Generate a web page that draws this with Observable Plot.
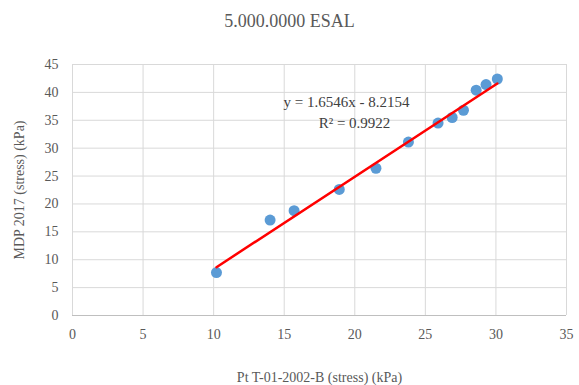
<!DOCTYPE html>
<html>
<head>
<meta charset="utf-8">
<script src="https://cdn.jsdelivr.net/npm/d3@7"></script>
<script src="https://cdn.jsdelivr.net/npm/@observablehq/plot@0.6"></script>
<style>
  body { margin: 0; background: #fff; }
  #title { height: 40px; line-height: 42px; text-align: center; font-family: "Liberation Serif", serif; font-size: 18px; color: #595959; width: 579px; }
  svg text { font-family: "Liberation Serif", serif; }
</style>
</head>
<body>
<div id="title">5.000.0000 ESAL</div>
<div id="chart"></div>
<script>
const ptValues = [10.2, 14.0, 15.7, 18.9, 21.5, 23.8, 25.9, 26.9, 27.7, 28.6, 29.3, 30.1];
const mdpValues = [7.7, 17.1, 18.8, 22.6, 26.4, 31.1, 34.5, 35.5, 36.8, 40.4, 41.4, 42.4];
const xTicks = [0, 5, 10, 15, 20, 25, 30, 35];
const yTicks = [0, 5, 10, 15, 20, 25, 30, 35, 40, 45];
const slope = 1.6546;
const intercept = -8.2154;
const equationLabel = "y = 1.6546x - 8.2154";
const r2Label = "R² = 0.9922";

const points = ptValues.map((x, i) => ({x, y: mdpValues[i]}));
const xMin = d3.min(ptValues), xMax = d3.max(ptValues);
const trend = [xMin, xMax].map(x => ({x, y: slope * x + intercept}));

const font = "Liberation Serif, serif";
const chart = Plot.plot({
  width: 579,
  height: 345,
  marginTop: 24,
  marginBottom: 70,
  marginLeft: 72,
  marginRight: 13,
  style: {fontFamily: font, fontSize: "14px", color: "#595959", background: "#fff"},
  x: {domain: [0, 35]},
  y: {domain: [0, 45]},
  marks: [
    Plot.ruleX(xTicks, {stroke: "#d9d9d9", strokeWidth: 1}),
    Plot.ruleY(yTicks.filter(d => d > 0), {stroke: "#d9d9d9", strokeWidth: 1}),
    Plot.ruleY([0], {stroke: "#bfbfbf", strokeWidth: 1}),
    Plot.axisX({ticks: xTicks, tickSize: 0, tickPadding: 14, fontSize: 14, fontFamily: font, label: "Pt T-01-2002-B (stress) (kPa)", labelAnchor: "center", labelOffset: 66, labelArrow: "none"}),
    Plot.axisY({ticks: yTicks, tickSize: 0, tickPadding: 14, fontSize: 14, fontFamily: font, label: "MDP 2017 (stress) (kPa)", labelAnchor: "center", labelOffset: 58, labelArrow: "none"}),
    Plot.dot(points, {x: "x", y: "y", r: 5.5, fill: "#5b9bd5", stroke: null}),
    Plot.line(trend, {x: "x", y: "y", stroke: "#ff0000", strokeWidth: 2.5}),
    Plot.text([equationLabel], {frameAnchor: "top-left", dx: 274, dy: 32, text: d => d, textAnchor: "middle", fontSize: 15, fontFamily: font, fill: "#404040"}),
    Plot.text([r2Label], {frameAnchor: "top-left", dx: 282, dy: 53, text: d => d, textAnchor: "middle", fontSize: 15, fontFamily: font, fill: "#404040"})
  ]
});
document.getElementById("chart").appendChild(chart);
</script>
</body>
</html>
